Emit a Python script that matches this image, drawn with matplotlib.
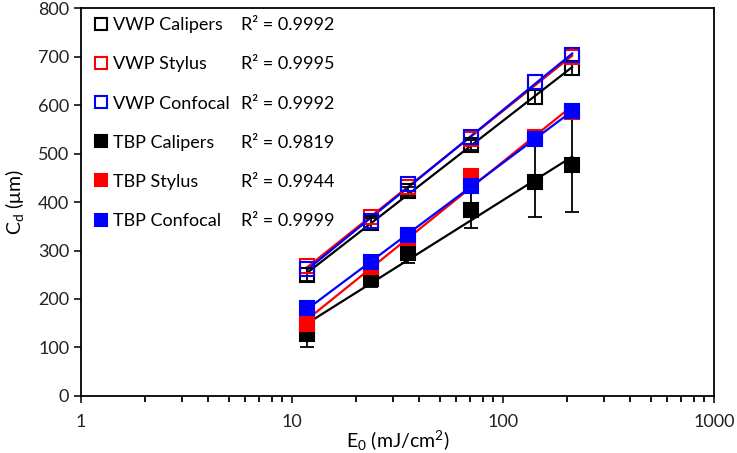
import numpy as np
import matplotlib
matplotlib.use('Agg')
import matplotlib.pyplot as plt
from matplotlib.lines import Line2D

plt.rcParams['font.family'] = ['Lato', 'DejaVu Sans']
plt.rcParams['mathtext.fontset'] = 'custom'
plt.rcParams['mathtext.rm'] = 'Lato'
plt.rcParams['mathtext.it'] = 'Lato'

# fluence (mJ/cm2)
e0 = [11.8, 23.6, 35.4, 70.8, 141.6, 212.4]

# crater depth (um)
vwp_calipers = [250, 356, 422, 518, 617, 677]
vwp_calipers_err = [13, 12, 10, 10, 14, 15]
vwp_stylus = [268, 370, 430, 530, 648, 700]
vwp_confocal = [262, 360, 437, 535, 648, 703]
tbp_calipers = [127, 241, 294, 384, 442, 476]
tbp_calipers_err = [27, 17, 20, 37, 73, 97]
tbp_stylus = [148, 265, 326, 453, 535, 585]
tbp_confocal = [181, 276, 332, 434, 530, 588]

names = ['VWP Calipers', 'VWP Stylus', 'VWP Confocal',
         'TBP Calipers', 'TBP Stylus', 'TBP Confocal']
r2 = ['0.9992', '0.9995', '0.9992', '0.9819', '0.9944', '0.9999']

series = [vwp_calipers, vwp_stylus, vwp_confocal,
          tbp_calipers, tbp_stylus, tbp_confocal]
errs = [vwp_calipers_err, None, None, tbp_calipers_err, None, None]
colors = ['black', 'red', 'blue', 'black', 'red', 'blue']
filled = [False, False, False, True, True, True]

fig = plt.figure(figsize=(7.37, 4.53), dpi=100)
ax = fig.add_axes([0.110, 0.126, 0.859, 0.856])

x = np.array(e0)
xfit = np.array([x.min(), x.max()])
handles = []
for y, err, c, f, name in zip(series, errs, colors, filled, names):
    y = np.array(y)
    # log trendline y = a ln(x) + b
    a, b = np.polyfit(np.log(x), y, 1)
    ax.plot(xfit, a * np.log(xfit) + b, color=c, lw=1.6, zorder=2)
    if err is not None:
        ax.errorbar(x, y, yerr=err, fmt='none', ecolor='black',
                    elinewidth=1.3, capsize=5, capthick=1.3, zorder=3)
    fc = c if f else 'none'
    ax.plot(x, y, ls='none', marker='s', ms=10, mfc=fc, mec=c,
            mew=1.5, zorder=4)
    handles.append(Line2D([], [], ls='none', marker='s', ms=9, mfc=fc,
                          mec=c, mew=1.5))

ax.set_xscale('log')
ax.set_xlim(1, 1000)
ax.set_ylim(0, 800)
ax.set_yticks(range(0, 801, 100))
ax.set_xticks([1, 10, 100, 1000])
ax.set_xticklabels(['1', '10', '100', '1000'])
ax.tick_params(axis='both', which='major', direction='out', length=5,
               width=1.3, labelsize=13, colors='#222222')
ax.tick_params(axis='x', which='minor', direction='out', length=4, width=1.3)
ax.tick_params(axis='x', pad=8)
for s in ax.spines.values():
    s.set_linewidth(1.3)

ax.set_xlabel('E$_0$ (mJ/cm$^2$)', fontsize=14, labelpad=-1)
ax.set_ylabel('C$_\\mathrm{d}$ (\u03bcm)', fontsize=14, labelpad=9)

leg1 = ax.legend(handles, names, loc='upper left', frameon=False,
                 fontsize=13, labelspacing=1.28, handlelength=0.8,
                 handletextpad=0.3, borderaxespad=0.0,
                 bbox_to_anchor=(0.008, 0.995))
ax.add_artist(leg1)
blank = [Line2D([], [], ls='none') for _ in r2]
ax.legend(blank, ['R\u00b2 = ' + v for v in r2], loc='upper left',
          frameon=False, fontsize=13, labelspacing=1.28, handlelength=0,
          handletextpad=0, borderaxespad=0.0, bbox_to_anchor=(0.241, 0.995))

fig.savefig('out.png', dpi=100)
